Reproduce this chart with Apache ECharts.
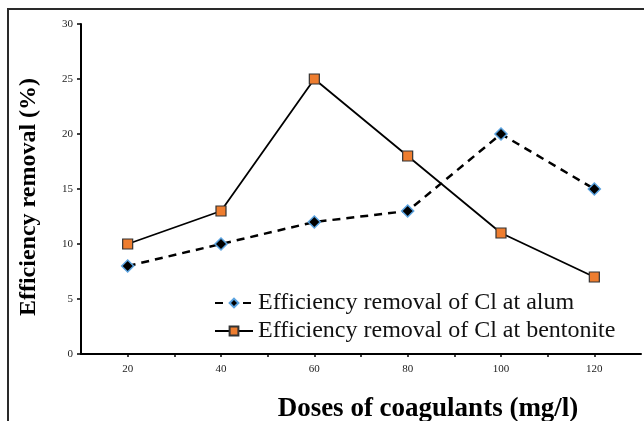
<!DOCTYPE html>
<html>
<head>
<meta charset="utf-8">
<script src="https://cdn.jsdelivr.net/npm/echarts@6/dist/echarts.min.js"></script>
<style>
  html, body { margin: 0; padding: 0; background: #fff; }
  #chart { width: 644px; height: 421px; }
</style>
</head>
<body>
<div id="chart"></div>
<script>
// doses of coagulants (mg/l)
const doses = [20, 40, 60, 80, 100, 120]
// efficiency removal (%)
const alumValues = [8, 10, 12, 13, 20, 15]
const bentoniteValues = [10, 13, 25, 18, 11, 7]

const serif = '"Liberation Serif", "DejaVu Serif", serif'

const chart = echarts.init(document.getElementById('chart'))
chart.setOption({
  backgroundColor: '#fff',
  animation: false,
  graphic: [
    { // frame lines top and left
      type: 'polyline',
      shape: { points: [[8, 421], [8, 9], [644, 9]] },
      style: { stroke: '#2a2a2a', lineWidth: 2, fill: null }
    }
  ],
  grid: { left: 81, right: 3, top: 24, bottom: 67, containLabel: false, outerBoundsMode: 'none' },
  legend: {
    orient: 'vertical',
    left: 209,
    top: 286,
    itemWidth: 38,
    itemHeight: 11,
    itemGap: 4,
    textStyle: { fontFamily: serif, fontSize: 24, color: '#111' },
    data: ['Efficiency removal of Cl at alum', 'Efficiency removal of Cl at bentonite']
  },
  xAxis: {
    type: 'value',
    min: 10,
    max: 130,
    interval: 10,
    name: 'Doses of coagulants (mg/l)',
    nameLocation: 'middle',
    nameGap: 42,
    nameTextStyle: {
      fontFamily: serif, fontSize: 27, fontWeight: 'bold', color: '#000',
      padding: [0, 0, 0, 134]
    },
    axisLine: { lineStyle: { color: '#000', width: 2 } },
    axisTick: { show: true, length: 3, lineStyle: { color: '#000', width: 1.5 } },
    axisLabel: {
      fontFamily: serif, fontSize: 11, color: '#222', margin: 10,
      showMinLabel: false, showMaxLabel: false,
      formatter: v => (v % 20 === 0 ? String(v) : '')
    },
    splitLine: { show: false }
  },
  yAxis: {
    type: 'value',
    min: 0,
    max: 30,
    interval: 5,
    name: 'Efficiency removal (%)',
    nameLocation: 'middle',
    nameGap: 40,
    nameTextStyle: {
      fontFamily: serif, fontSize: 24, fontWeight: 'bold', color: '#000',
      padding: [0, 16, 0, 0]
    },
    axisLine: { show: true, lineStyle: { color: '#000', width: 2 } },
    axisTick: { show: true, length: 4, lineStyle: { color: '#000', width: 1.5 } },
    axisLabel: { fontFamily: serif, fontSize: 11, color: '#222', margin: 8 },
    splitLine: { show: false }
  },
  series: [
    {
      name: 'Efficiency removal of Cl at alum',
      type: 'line',
      data: doses.map((d, i) => [d, alumValues[i]]),
      symbol: 'diamond',
      symbolSize: 12,
      lineStyle: { color: '#000', width: 2.5, type: [8, 6] },
      itemStyle: { color: '#000', borderColor: '#5ba3e0', borderWidth: 1.5 },
      z: 3
    },
    {
      name: 'Efficiency removal of Cl at bentonite',
      type: 'line',
      data: doses.map((d, i) => [d, bentoniteValues[i]]),
      symbol: 'rect',
      symbolSize: 10,
      lineStyle: { color: '#000', width: 1.8 },
      itemStyle: { color: '#ee7d2f', borderColor: '#333', borderWidth: 1.2 },
      z: 2
    }
  ]
})
</script>
</body>
</html>
